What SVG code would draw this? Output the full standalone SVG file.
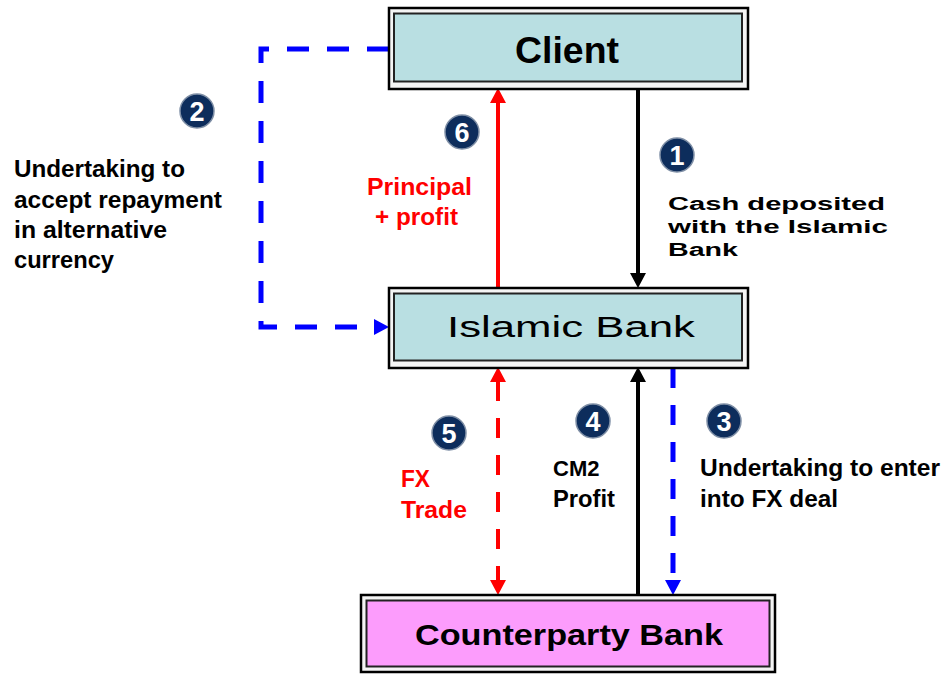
<svg xmlns="http://www.w3.org/2000/svg" width="942" height="674" viewBox="0 0 942 674">
<style>
.outer{fill:#f4f4f4;stroke:#000;stroke-width:2.5}
.inner{stroke:#222;stroke-width:2}
.teal{fill:#b9dfe2}
.pink{fill:#fc9cfc}
.t{font-family:"Liberation Sans",Arial,sans-serif;font-weight:bold;fill:#000}
.n{font-family:"Liberation Sans",Arial,sans-serif;font-weight:normal;fill:#000}
.red{fill:#ff0000}
.badge circle{fill:#0d2d5c;stroke:#7f8fa6;stroke-width:1.5}
.badge text{font-family:"Liberation Sans",Arial,sans-serif;font-weight:bold;font-size:27px;fill:#fff;text-anchor:middle}
.blk{stroke:#000;stroke-width:4;fill:none}
.rd{stroke:#ff0000;stroke-width:4;fill:none}
.bl{stroke:#0000ff;stroke-width:5;fill:none}
</style>
<defs>
<marker id="aBlack" markerUnits="userSpaceOnUse" markerWidth="16" markerHeight="16" viewBox="0 0 15 16" refX="1" refY="8" orient="auto-start-reverse"><path d="M0,0 L15,8 L0,16 z" fill="#000"/></marker>
<marker id="aRed" markerUnits="userSpaceOnUse" markerWidth="16" markerHeight="16" viewBox="0 0 15 16" refX="1" refY="8" orient="auto-start-reverse"><path d="M0,0 L15,8 L0,16 z" fill="#ff0000"/></marker>
<marker id="aBlue" markerUnits="userSpaceOnUse" markerWidth="16" markerHeight="16" viewBox="0 0 15 16" refX="1" refY="8" orient="auto-start-reverse"><path d="M0,0 L15,8 L0,16 z" fill="#0000ff"/></marker>
</defs>
<rect width="942" height="674" fill="#fff"/>

<g id="connectors">
<line id="c1" class="blk" x1="638" y1="89" x2="638" y2="274" marker-end="url(#aBlack)"/>
<line id="c6" class="rd" x1="498" y1="288" x2="498" y2="102" marker-end="url(#aRed)"/>
<path id="c2" class="bl" d="M389,49 H261 V327 H375" stroke-dasharray="22 18" marker-end="url(#aBlue)"/>
<line id="c5" class="rd" x1="498" y1="381" x2="498" y2="581" stroke-dasharray="20 17" marker-start="url(#aRed)" marker-end="url(#aRed)"/>
<line id="c4" class="blk" x1="638" y1="595" x2="638" y2="381" marker-end="url(#aBlack)"/>
<line id="c3" class="bl" x1="673" y1="368" x2="673" y2="581" stroke-dasharray="20 17" marker-end="url(#aBlue)"/>
</g>

<g id="client">
<rect class="outer" x="389" y="8" width="359" height="81"/>
<rect class="inner teal" x="394" y="13.5" width="348" height="68"/>
<text class="t" x="515" y="63" font-size="37" textLength="104" lengthAdjust="spacingAndGlyphs">Client</text>
</g>

<g id="islamic-bank">
<rect class="outer" x="389" y="288" width="359" height="80"/>
<rect class="inner teal" x="394" y="293.5" width="348" height="67"/>
<text class="n" x="447" y="337" font-size="29" textLength="248" lengthAdjust="spacingAndGlyphs">Islamic Bank</text>
</g>

<g id="counterparty-bank">
<rect class="outer" x="361" y="595" width="414" height="77"/>
<rect class="inner pink" x="366.5" y="600.5" width="403" height="66"/>
<text class="t" x="415" y="645" font-size="30" textLength="308" lengthAdjust="spacingAndGlyphs">Counterparty Bank</text>
</g>

<g id="label-2">
<g class="badge"><circle cx="197" cy="111" r="17"/><text x="197" y="121">2</text></g>
<text class="t" font-size="23" x="14" y="177" textLength="171" lengthAdjust="spacingAndGlyphs">Undertaking to</text>
<text class="t" font-size="23" x="14" y="208" textLength="208" lengthAdjust="spacingAndGlyphs">accept repayment</text>
<text class="t" font-size="23" x="14" y="238" textLength="153" lengthAdjust="spacingAndGlyphs">in alternative</text>
<text class="t" font-size="23" x="14" y="268" textLength="100" lengthAdjust="spacingAndGlyphs">currency</text>
</g>

<g id="label-6">
<g class="badge"><circle cx="462" cy="132" r="17"/><text x="462" y="142">6</text></g>
<text class="t red" font-size="23" x="367" y="195" textLength="105" lengthAdjust="spacingAndGlyphs">Principal</text>
<text class="t red" font-size="23" x="375" y="225" textLength="83" lengthAdjust="spacingAndGlyphs">+ profit</text>
</g>

<g id="label-1">
<g class="badge"><circle cx="677" cy="155" r="17"/><text x="677" y="165">1</text></g>
<text class="t" font-size="18" x="668" y="210" textLength="217" lengthAdjust="spacingAndGlyphs">Cash deposited</text>
<text class="t" font-size="18" x="668" y="233" textLength="220" lengthAdjust="spacingAndGlyphs">with the Islamic</text>
<text class="t" font-size="18" x="668" y="256" textLength="70" lengthAdjust="spacingAndGlyphs">Bank</text>
</g>

<g id="label-5">
<g class="badge"><circle cx="449" cy="433" r="17"/><text x="449" y="443">5</text></g>
<text class="t red" font-size="23" x="401" y="487" textLength="29" lengthAdjust="spacingAndGlyphs">FX</text>
<text class="t red" font-size="23" x="401" y="518" textLength="66" lengthAdjust="spacingAndGlyphs">Trade</text>
</g>

<g id="label-4">
<g class="badge"><circle cx="593" cy="421" r="17"/><text x="593" y="431">4</text></g>
<text class="t" font-size="22" x="553" y="476">CM2</text>
<text class="t" font-size="23" x="553" y="507" textLength="62" lengthAdjust="spacingAndGlyphs">Profit</text>
</g>

<g id="label-3">
<g class="badge"><circle cx="724" cy="421" r="17"/><text x="724" y="431">3</text></g>
<text class="t" font-size="23" x="700" y="476" textLength="240" lengthAdjust="spacingAndGlyphs">Undertaking to enter</text>
<text class="t" font-size="23" x="700" y="507" textLength="138" lengthAdjust="spacingAndGlyphs">into FX deal</text>
</g>
</svg>
